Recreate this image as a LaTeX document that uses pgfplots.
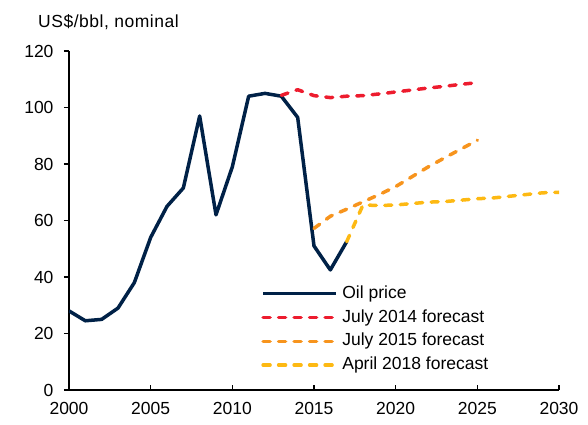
\documentclass[border=0pt]{standalone}
\usepackage{fontspec}
\setmainfont{Liberation Sans}
\usepackage{pgfplots}
\pgfplotsset{compat=1.18}

\definecolor{oilnavy}{RGB}{0,33,71}
\definecolor{fcred}{RGB}{237,28,46}
\definecolor{fcorange}{RGB}{247,148,29}
\definecolor{fcyellow}{RGB}{253,185,19}

\begin{document}
\begin{tikzpicture}[font=\fontsize{17.5bp}{21bp}\selectfont]
\useasboundingbox (-69bp,-35bp) rectangle (519bp,390bp);
\begin{axis}[
  scale only axis, width=490bp, height=339bp,
  xmin=2000, xmax=2030, ymin=0, ymax=120,
  axis x line=bottom, axis y line=left,
  axis line style={-, line width=1.2bp, black},
  xtick={2000,2005,...,2030}, ytick={0,20,...,120},
  tick align=inside, major tick length=5bp,
  every tick/.style={black, line width=1.2bp},
  y tick style={xshift=-5bp},
  /pgf/number format/assume math mode=true,
  /pgf/number format/1000 sep={},
  xticklabel style={yshift=-9bp},
  yticklabel style={xshift=-12bp},
  legend style={draw=none, fill=none, at={(rel axis cs:0.386,0.317)}, anchor=north west,
    row sep=5.8bp, column sep=3.5bp,
    nodes={inner sep=1bp, text height=12.5bp, text depth=3.5bp}},
  legend cell align=left,
  legend image code/.code={\draw[line width=3.5bp, #1] (0bp,0bp) -- (73bp,0bp);},
  every axis plot/.append style={line width=3.5bp, line join=round},
  fcdash/.style={line cap=round, dash pattern=on 7bp off 8.5bp},
]
\addplot[oilnavy] coordinates {
 (2000,28) (2001,24.5) (2002,25) (2003,29) (2004,38) (2005,54) (2006,65)
 (2007,71.5) (2008,97) (2009,62) (2010,79) (2011,104) (2012,105) (2013,104)
 (2014,96.5) (2015,51) (2016,42.5) (2017,52.5)};
\addlegendentry{Oil price}
\addplot[fcred, fcdash] coordinates {
 (2013,104.3) (2014,106.3) (2015,104.2) (2016,103.5) (2017,104) (2018,104.2)
 (2019,104.8) (2020,105.5) (2021,106.2) (2022,106.9) (2023,107.5) (2024,108.2) (2025,108.8)};
\addlegendentry{July 2014 forecast}
\addplot[fcorange, fcdash] coordinates {
 (2015,57.2) (2016,61.5) (2017,64) (2018,66.6) (2019,69.2) (2020,72)
 (2021,75.5) (2022,79) (2023,82.2) (2024,85.3) (2025,88.4)};
\addlegendentry{July 2015 forecast}
\addplot[fcyellow, fcdash] coordinates {
 (2017,52.5) (2018,65.5) (2019,65.3) (2020,65.5) (2021,66) (2022,66.5)
 (2023,66.7) (2024,67.2) (2025,67.7) (2026,68) (2027,68.6) (2028,69.2)
 (2029,69.8) (2030,70)};
\addlegendentry{April 2018 forecast}
\end{axis}
\node[anchor=west, inner sep=0pt] at (-31bp,368bp)
  {\addfontfeature{LetterSpace=3}US\$/bbl, nominal};
\end{tikzpicture}
\end{document}
